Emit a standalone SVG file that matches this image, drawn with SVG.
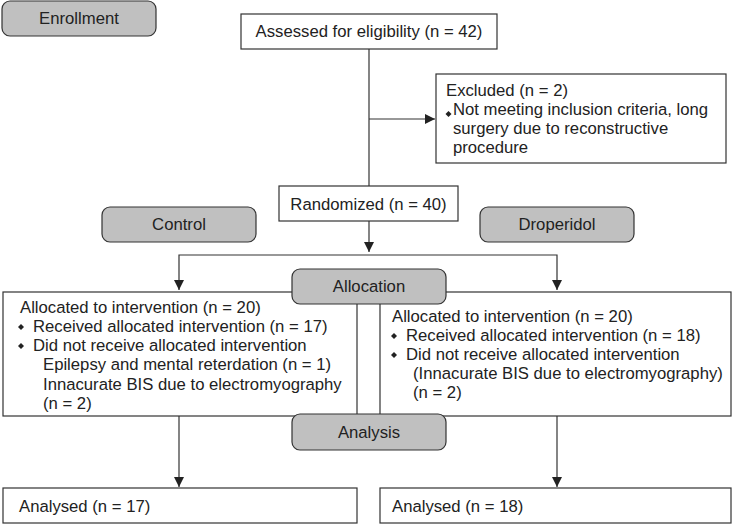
<svg xmlns="http://www.w3.org/2000/svg" width="735" height="525" viewBox="0 0 735 525">
<defs>
<marker id="ah" markerUnits="userSpaceOnUse" markerWidth="11" markerHeight="11" refX="10" refY="5" orient="auto">
<path d="M0,0 L10,5 L0,10 Z" fill="#222"/>
</marker>
<style>
.box{fill:#fff;stroke:#333;stroke-width:1.2}
.gbox{fill:#c0c0c0;stroke:#333;stroke-width:1.2}
.t{font-family:"Liberation Sans",Arial,sans-serif;font-size:16.7px;fill:#222}
.c{text-anchor:middle}
.d{fill:#222}
.ln{fill:none;stroke:#333;stroke-width:1.2}
</style>
</defs>
<rect width="735" height="525" fill="#fff"/>
<g id="connectors">
<line class="ln" x1="369" y1="49" x2="369" y2="186"/>
<line class="ln" x1="369" y1="119" x2="435" y2="119" marker-end="url(#ah)"/>
<line class="ln" x1="369" y1="221" x2="369" y2="252" marker-end="url(#ah)"/>
<polyline class="ln" points="369,255 179,255 179,290" marker-end="url(#ah)"/>
<polyline class="ln" points="369,255 557,255 557,290" marker-end="url(#ah)"/>
<line class="ln" x1="179" y1="416" x2="179" y2="487" marker-end="url(#ah)"/>
<line class="ln" x1="557" y1="416" x2="557" y2="487" marker-end="url(#ah)"/>
</g>
<g id="enrollment">
<rect class="gbox" x="2" y="1" width="154" height="35" rx="8"/>
<text class="t c" x="79" y="24">Enrollment</text>
</g>
<g id="assessed">
<rect class="box" x="241" y="14" width="256" height="35"/>
<text class="t c" x="369" y="37">Assessed for eligibility (n = 42)</text>
</g>
<g id="excluded">
<rect class="box" x="436" y="74" width="290" height="89"/>
<text class="t" x="446" y="96">Excluded (n = 2)</text>
<polygon class="d" points="448.5,111 451.5,114 448.5,117 445.5,114"/>
<text class="t" x="453" y="115">Not meeting inclusion criteria, long</text>
<text class="t" x="453" y="134">surgery due to reconstructive</text>
<text class="t" x="453" y="153">procedure</text>
</g>
<g id="randomized">
<rect class="box" x="279" y="186" width="179" height="35"/>
<text class="t c" x="368.5" y="210">Randomized (n = 40)</text>
</g>
<g id="control">
<rect class="gbox" x="102" y="207" width="154" height="35" rx="8"/>
<text class="t c" x="179" y="230">Control</text>
</g>
<g id="droperidol">
<rect class="gbox" x="480" y="207" width="154" height="35" rx="8"/>
<text class="t c" x="557" y="230">Droperidol</text>
</g>
<g id="left-alloc">
<rect class="box" x="3" y="292" width="354" height="124"/>
<text class="t" x="20" y="313">Allocated to intervention (n = 20)</text>
<polygon class="d" points="21,324 24,327 21,330 18,327"/>
<text class="t" x="33" y="332">Received allocated intervention (n = 17)</text>
<polygon class="d" points="21,343 24,346 21,349 18,346"/>
<text class="t" x="33" y="351">Did not receive allocated intervention</text>
<text class="t" x="43" y="370">Epilepsy and mental reterdation (n = 1)</text>
<text class="t" x="43" y="390">Innacurate BIS due to electromyography</text>
<text class="t" x="43" y="409">(n = 2)</text>
</g>
<g id="right-alloc">
<rect class="box" x="380" y="292" width="351" height="124"/>
<text class="t" x="392" y="322">Allocated to intervention (n = 20)</text>
<polygon class="d" points="394,333 397,336 394,339 391,336"/>
<text class="t" x="406" y="341">Received allocated intervention (n = 18)</text>
<polygon class="d" points="394,352 397,355 394,358 391,355"/>
<text class="t" x="406" y="360">Did not receive allocated intervention</text>
<text class="t" x="413" y="379">(Innacurate BIS due to electromyography)</text>
<text class="t" x="413" y="398">(n = 2)</text>
</g>
<g id="allocation">
<rect class="gbox" x="292" y="269" width="154" height="35" rx="8"/>
<text class="t c" x="369" y="292">Allocation</text>
</g>
<g id="analysis">
<rect class="gbox" x="292" y="414" width="154" height="36" rx="8"/>
<text class="t c" x="369" y="438">Analysis</text>
</g>
<g id="analysed-left">
<rect class="box" x="3" y="488" width="354" height="35"/>
<text class="t" x="19" y="512">Analysed (n = 17)</text>
</g>
<g id="analysed-right">
<rect class="box" x="380" y="488" width="351" height="35"/>
<text class="t" x="392" y="512">Analysed (n = 18)</text>
</g>
</svg>
